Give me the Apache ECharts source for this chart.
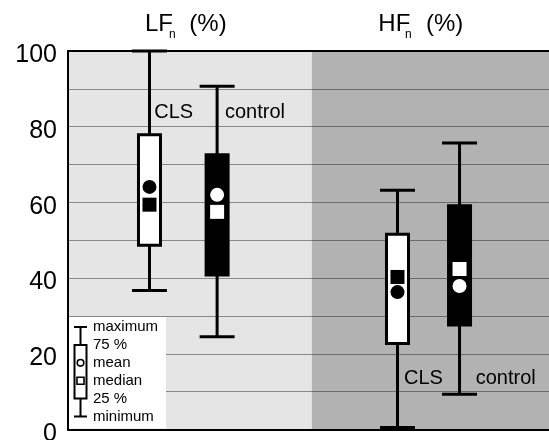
<!DOCTYPE html>
<html>
<head>
<meta charset="utf-8">
<script src="https://cdn.jsdelivr.net/npm/echarts@6/dist/echarts.min.js"></script>
<style>
  html, body { margin: 0; padding: 0; background: #fff; }
  #chart { width: 549px; height: 440px; }
</style>
</head>
<body>
<div id="chart"></div>
<script>
// ---- data ----
const groups = ['LF', 'HF'];
const subjects = ['CLS', 'control', 'CLS', 'control'];
const maxVals    = [100.0, 90.7, 63.2, 75.7];
const q3Vals     = [77.9, 72.6, 51.6, 59.1];
const medianVals = [59.4, 57.5, 40.3, 42.4];
const meanVals   = [64.1, 62.0, 36.3, 37.9];
const q1Vals     = [48.7, 40.8, 22.7, 27.6];
const minVals    = [36.7, 24.5, 0.5, 9.3];
const yTickLabels = [0, 20, 40, 60, 80, 100];
const legendLabels = ['maximum', '75 %', 'mean', 'median', '25 %', 'minimum'];

// ---- layout (positions on a 0..100 horizontal scale) ----
const boxPos = [16.94, 31.0, 68.5, 81.4];
const bgSpans = [[0, 50.7], [50.7, 100]];
const bgColors = ['#e5e5e5', '#b2b2b2'];
const FONT = 'Liberation Sans, Arial, sans-serif';

const chart = echarts.init(document.getElementById('chart'));

const boxData = subjects.map((s, i) => [boxPos[i], minVals[i], q1Vals[i], medianVals[i], q3Vals[i], maxVals[i], meanVals[i], i % 2]);

function renderBox(params, api) {
  const x = api.value(0);
  const pMin = api.coord([x, api.value(1)]);
  const pQ1 = api.coord([x, api.value(2)]);
  const pMed = api.coord([x, api.value(3)]);
  const pQ3 = api.coord([x, api.value(4)]);
  const pMax = api.coord([x, api.value(5)]);
  const pMean = api.coord([x, api.value(6)]);
  const filled = api.value(7) === 1;
  const cx = pMin[0];
  const capHalf = 17.5, boxHalf = 11, lw = 3;
  const fg = filled ? '#fff' : '#000';
  const boxFill = filled ? '#000' : '#fff';
  return {
    type: 'group',
    children: [
      { type: 'line', shape: { x1: cx, y1: pMin[1], x2: cx, y2: pMax[1] }, style: { stroke: '#000', lineWidth: lw } },
      { type: 'line', shape: { x1: cx - capHalf, y1: pMax[1], x2: cx + capHalf, y2: pMax[1] }, style: { stroke: '#000', lineWidth: lw } },
      { type: 'line', shape: { x1: cx - capHalf, y1: pMin[1], x2: cx + capHalf, y2: pMin[1] }, style: { stroke: '#000', lineWidth: lw } },
      { type: 'rect', shape: { x: cx - boxHalf, y: pQ3[1], width: boxHalf * 2, height: pQ1[1] - pQ3[1] }, style: { fill: boxFill, stroke: '#000', lineWidth: lw } },
      { type: 'circle', shape: { cx: cx, cy: pMean[1], r: 7 }, style: { fill: fg } },
      { type: 'rect', shape: { x: cx - 7, y: pMed[1] - 7, width: 14, height: 14 }, style: { fill: fg } }
    ]
  };
}

function renderBg(params, api) {
  const p0 = api.coord([api.value(0), 100]);
  const p1 = api.coord([api.value(1), 0]);
  return {
    type: 'rect',
    shape: { x: p0[0], y: p0[1], width: p1[0] - p0[0], height: p1[1] - p0[1] },
    style: { fill: bgColors[params.dataIndex] }
  };
}

// legend key graphic
const lgX = 80.5, lgTop = 327, lgStep = 17.9;
const lgY = legendLabels.map((_, i) => lgTop + i * lgStep);
const legendChildren = [
  { type: 'rect', shape: { x: 69, y: 317, width: 97, height: 111.5 }, style: { fill: '#fff' } },
  { type: 'line', shape: { x1: lgX, y1: lgY[0], x2: lgX, y2: lgY[5] }, style: { stroke: '#000', lineWidth: 2 } },
  { type: 'line', shape: { x1: lgX - 6.5, y1: lgY[0], x2: lgX + 6.5, y2: lgY[0] }, style: { stroke: '#000', lineWidth: 2 } },
  { type: 'line', shape: { x1: lgX - 6.5, y1: lgY[5], x2: lgX + 6.5, y2: lgY[5] }, style: { stroke: '#000', lineWidth: 2 } },
  { type: 'rect', shape: { x: lgX - 6, y: lgY[1], width: 12, height: lgY[4] - lgY[1] }, style: { fill: '#fff', stroke: '#000', lineWidth: 2 } },
  { type: 'circle', shape: { cx: lgX, cy: lgY[2], r: 3.3 }, style: { fill: '#fff', stroke: '#000', lineWidth: 1.6 } },
  { type: 'rect', shape: { x: lgX - 3.5, y: lgY[3] - 3.5, width: 7, height: 7 }, style: { fill: '#fff', stroke: '#000', lineWidth: 1.6 } }
].concat(legendLabels.map((t, i) => ({
  type: 'text', x: 93, y: lgY[i],
  style: { text: t, fill: '#000', font: '15px ' + FONT, verticalAlign: 'middle', align: 'left' }
}))).map((el, i) => Object.assign(el, { z: 50, z2: i }));

function txt(t, x, y, size) {
  return { type: 'text', x: x, y: y, z: 50,
    style: { text: t, fill: '#000', font: size + 'px ' + FONT, verticalAlign: 'middle', align: 'left' } };
}

const option = {
  animation: false,
  backgroundColor: '#fff',
  grid: { left: 68, right: 0, top: 51, bottom: 10.5, show: false, containLabel: false, outerBoundsMode: 'none' },
  xAxis: [
    { type: 'value', min: 0, max: 100, position: 'bottom', z: 60,
      axisLine: { show: true, onZero: false, lineStyle: { color: '#000', width: 2 } },
      axisTick: { show: false }, axisLabel: { show: false }, splitLine: { show: false } },
    { type: 'value', min: 0, max: 100, position: 'top', z: 60,
      axisLine: { show: true, onZero: false, lineStyle: { color: '#000', width: 2 } },
      axisTick: { show: false }, axisLabel: { show: false }, splitLine: { show: false } }
  ],
  yAxis: {
    type: 'value', min: 0, max: 100, interval: 10, z: 1,
    axisLine: { show: true, lineStyle: { color: '#000', width: 2 } },
    axisTick: { show: false },
    axisLabel: {
      formatter: v => yTickLabels.includes(v) ? String(v) : '',
      fontSize: 25, color: '#000', fontFamily: FONT, margin: 11,
      verticalAlign: 'top', lineHeight: 9
    },
    splitLine: { show: true, lineStyle: { color: 'rgba(0,0,0,0.4)', width: 1 } }
  },
  graphic: [
    { type: 'group', z: 50, children: legendChildren },
    txt(groups[0], 145, 24, 24), txt('n', 169, 35, 12), txt('(%)', 189.3, 24, 24),
    txt(groups[1], 378.3, 24, 24), txt('n', 405, 35, 12), txt('(%)', 426, 24, 24),
    txt(subjects[0], 154.3, 112.5, 20), txt(subjects[1], 225, 112.5, 20),
    txt(subjects[2], 404, 378, 20), txt(subjects[3], 475.7, 378, 20)
  ],
  series: [
    { type: 'custom', z: 0, silent: true, renderItem: renderBg, data: bgSpans, clip: false },
    { type: 'custom', z: 3, silent: true, renderItem: renderBox, data: boxData, clip: false,
      encode: { x: 0, y: [1, 5] } }
  ]
};
chart.setOption(option);
</script>
</body>
</html>
